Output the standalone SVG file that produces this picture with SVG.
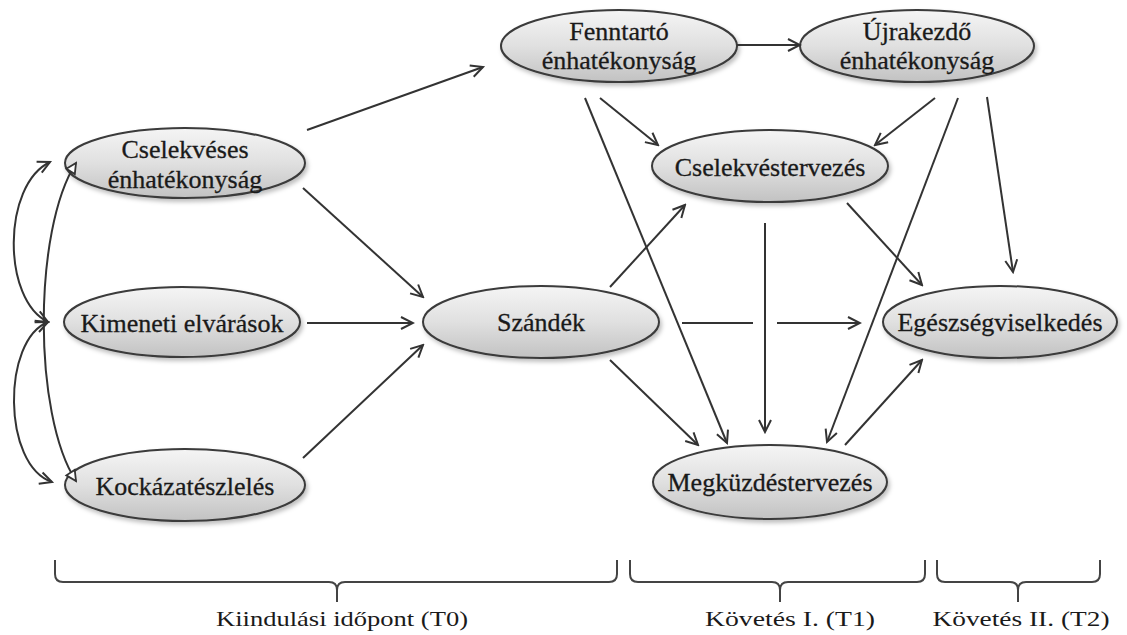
<svg xmlns="http://www.w3.org/2000/svg" width="1127" height="635" viewBox="0 0 1127 635">
<defs>
<linearGradient id="g" x1="0" y1="0" x2="0" y2="1">
<stop offset="0" stop-color="#f5f5f5"/>
<stop offset="0.5" stop-color="#e0e0e0"/>
<stop offset="1" stop-color="#c2c2c2"/>
</linearGradient>
<filter id="sh" x="-10%" y="-20%" width="125%" height="150%">
<feDropShadow dx="2" dy="3" stdDeviation="2" flood-color="#000" flood-opacity="0.25"/>
</filter>
<marker id="arr" viewBox="0 0 16 16" refX="14" refY="8" markerWidth="16" markerHeight="16" markerUnits="userSpaceOnUse" orient="auto-start-reverse">
<path d="M2,2 L14,8 L2,14" fill="none" stroke="#333" stroke-width="2" stroke-linejoin="miter"/>
</marker>
<marker id="tri" viewBox="0 0 14 14" refX="12" refY="7" markerWidth="14" markerHeight="14" markerUnits="userSpaceOnUse" orient="auto-start-reverse">
<path d="M2,2 L12,7 L2,12 Z" fill="#fff" stroke="#333" stroke-width="1.8"/>
</marker>
</defs>
<style>
.n ellipse{fill:url(#g);stroke:#3a3a3a;stroke-width:2;filter:url(#sh)}
.n text{font-family:"Liberation Serif","Times New Roman",serif;font-size:26px;fill:#1a1a1a;stroke:#1a1a1a;stroke-width:0.3;text-anchor:middle}
.c path,.c line{fill:none;stroke:#333;stroke-width:2}
.a{marker-end:url(#arr)}
.br path{fill:none;stroke:#444;stroke-width:2}
.lbl{font-family:"Liberation Serif","Times New Roman",serif;font-size:22px;fill:#1a1a1a;text-anchor:middle}
</style>
<rect width="1127" height="635" fill="#fff"/>

<g id="n-cselekveses" class="n">
<ellipse cx="185" cy="163" rx="120" ry="35"/>
<text x="185" y="158">Cselekvéses</text>
<text x="185" y="188">énhatékonyság</text>
</g>
<g id="n-kimeneti" class="n">
<ellipse cx="182" cy="322" rx="118" ry="35"/>
<text x="182" y="332">Kimeneti elvárások</text>
</g>
<g id="n-kockazat" class="n">
<ellipse cx="185" cy="485" rx="120" ry="36"/>
<text x="185" y="495">Kockázatészlelés</text>
</g>
<g id="n-szandek" class="n">
<ellipse cx="541" cy="322" rx="118" ry="36"/>
<text x="541" y="331">Szándék</text>
</g>
<g id="n-fenntarto" class="n">
<ellipse cx="619" cy="46" rx="118" ry="36"/>
<text x="619" y="40">Fenntartó</text>
<text x="619" y="69">énhatékonyság</text>
</g>
<g id="n-ujrakezdo" class="n">
<ellipse cx="917" cy="46" rx="117" ry="36"/>
<text x="917" y="40">Újrakezdő</text>
<text x="917" y="69">énhatékonyság</text>
</g>
<g id="n-cselekvestervezes" class="n">
<ellipse cx="770" cy="166" rx="118" ry="36"/>
<text x="770" y="176">Cselekvéstervezés</text>
</g>
<g id="n-egeszseg" class="n">
<ellipse cx="1000" cy="322" rx="117" ry="36"/>
<text x="1000" y="331">Egészségviselkedés</text>
</g>
<g id="n-megkuzdes" class="n">
<ellipse cx="770" cy="482" rx="117" ry="37"/>
<text x="770" y="491">Megküzdéstervezés</text>
</g>

<g id="connectors" class="c">
<path d="M50,162 C2,185 2,300 48,322" marker-start="url(#arr)" marker-end="url(#arr)"/>
<path d="M48,322 C2,340 2,465 52,482" marker-start="url(#arr)" marker-end="url(#arr)"/>
<path d="M76,163 C33,230 33,415 76,481" marker-start="url(#tri)" marker-end="url(#tri)"/>
<line class="a" x1="307" y1="130" x2="483" y2="67"/>
<line class="a" x1="303" y1="188" x2="423" y2="297"/>
<line class="a" x1="307" y1="323" x2="413" y2="323"/>
<line class="a" x1="303" y1="458" x2="423" y2="345"/>
<line class="a" x1="737" y1="45" x2="800" y2="45"/>
<line class="a" x1="600" y1="98" x2="658" y2="145"/>
<line class="a" x1="585" y1="98" x2="727" y2="443"/>
<line class="a" x1="935" y1="98" x2="875" y2="145"/>
<line class="a" x1="958" y1="98" x2="827" y2="442"/>
<line class="a" x1="987" y1="97" x2="1013" y2="272"/>
<line class="a" x1="610" y1="287" x2="685" y2="205"/>
<line x1="682" y1="323" x2="753" y2="323"/>
<line class="a" x1="777" y1="323" x2="860" y2="323"/>
<line class="a" x1="610" y1="360" x2="698" y2="445"/>
<line class="a" x1="765" y1="223" x2="765" y2="432"/>
<line class="a" x1="847" y1="203" x2="922" y2="285"/>
<line class="a" x1="845" y1="445" x2="922" y2="360"/>
</g>

<g id="brackets" class="br">
<path d="M55,560 L55,574 Q55,582 63,582 L329,582 Q337,582 337,590 L337,602 M337,590 Q337,582 345,582 L609,582 Q617,582 617,574 L617,560"/>
<path d="M630,560 L630,574 Q630,582 638,582 L772,582 Q780,582 780,590 L780,602 M780,590 Q780,582 788,582 L917,582 Q925,582 925,574 L925,560"/>
<path d="M937,560 L937,574 Q937,582 945,582 L1010,582 Q1018,582 1018,590 L1018,602 M1018,590 Q1018,582 1026,582 L1092,582 Q1100,582 1100,574 L1100,560"/>
</g>
<g id="labels">
<text class="lbl" x="342" y="626" textLength="252" lengthAdjust="spacingAndGlyphs">Kiindulási időpont (T0)</text>
<text class="lbl" x="790" y="626" textLength="170" lengthAdjust="spacingAndGlyphs">Követés I. (T1)</text>
<text class="lbl" x="1021" y="626" textLength="177" lengthAdjust="spacingAndGlyphs">Követés II. (T2)</text>
</g>
</svg>
